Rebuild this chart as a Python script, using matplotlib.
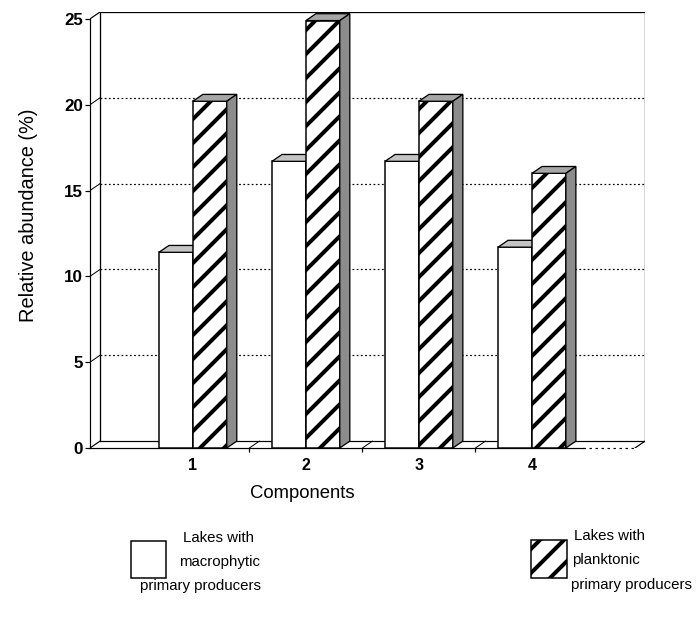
import matplotlib
matplotlib.use("Agg")
import matplotlib.pyplot as plt
from matplotlib.patches import Polygon, Rectangle

plt.rcParams['font.family'] = ['Liberation Sans', 'DejaVu Sans']
plt.rcParams['hatch.linewidth'] = 4.0

# data
components = [1, 2, 3, 4]
macrophytic = [11.4, 16.7, 16.7, 11.7]
planktonic = [20.2, 24.9, 20.2, 16.0]
yticks = [0, 5, 10, 15, 20, 25]

W, H = 697, 629
fig = plt.figure(figsize=(W / 72, H / 72), dpi=72)

# axes placed in pixel terms: front axis x=90, back wall right x=645, y 0 -> 448, top of wall -> 12
x0, x1, y0, y1 = 90, 645, 448, 12
ax = fig.add_axes([x0 / W, 1 - y0 / H, (x1 - x0) / W, (y0 - y1) / H])

XL, XR = 0.09, 5.0
DX, DY = 0.0885, 0.4       # depth offset of the pseudo 3d
ax.set_xlim(XL, XR)
ax.set_ylim(0, 25 + DY)

for s in ['top', 'right']:
    ax.spines[s].set_visible(False)
ax.spines['left'].set_bounds(0, 25)
ax.spines['bottom'].set_bounds(XL, 4.45)
ax.spines['left'].set_linewidth(1.2)
ax.spines['bottom'].set_linewidth(1.2)
ax.plot([4.45, XR - DX], [0, 0], color='k', lw=1.2, ls=(0, (2, 3)), clip_on=False)

ax.set_yticks(yticks)
ax.set_yticklabels([str(t) for t in yticks], fontsize=17, fontweight='bold')
ax.tick_params(axis='y', length=5, width=1.2, pad=2)
ax.set_xticks(components)
ax.set_xticklabels([str(c) for c in components], fontsize=16, fontweight='bold')
ax.tick_params(axis='x', which='major', length=0, pad=10)
ax.set_xticks([1.5, 2.5, 3.5], minor=True)
ax.tick_params(axis='x', which='minor', length=4, width=1.2)

# walls
bx = XL + DX
ax.plot([bx, bx, XR, XR], [DY, 25 + DY, 25 + DY, DY], color='k', lw=1.3, zorder=1)
ax.plot([bx, XR], [DY, DY], color='k', lw=1.2, zorder=1)
ax.plot([XL, bx], [25, 25 + DY], color='k', lw=1.2, zorder=1)
ax.plot([XL, bx], [0, DY], color='k', lw=1.2, zorder=1)
ax.plot([XR - DX, XR], [0, DY], color='k', lw=1.2, zorder=1)
for xb in [1.5, 2.5, 3.5]:
    ax.plot([xb, xb + DX], [0, DY], color='k', lw=1.0, zorder=1)
for t in yticks[1:-1]:
    ax.plot([bx, XR], [t + DY, t + DY], color='k', lw=1.2, ls=(0, (1.5, 2)), zorder=1)
    ax.plot([XL, bx], [t, t + DY], color='k', lw=1.0, zorder=1)

bw = 0.3


def bar3d(left, h, face, top, side, hatch=None):
    ax.add_patch(Rectangle((left, 0), bw, h, facecolor=face, edgecolor='k',
                           lw=1.5, hatch=hatch, zorder=3))
    ax.add_patch(Polygon([(left, h), (left + bw, h), (left + bw + DX, h + DY),
                          (left + DX, h + DY)], closed=True, facecolor=top,
                         edgecolor='k', lw=1.3, zorder=3))
    ax.add_patch(Polygon([(left + bw, 0), (left + bw + DX, DY), (left + bw + DX, h + DY),
                          (left + bw, h)], closed=True, facecolor=side,
                         edgecolor='k', lw=1.3, zorder=3))


for c, m, p in zip(components, macrophytic, planktonic):
    bar3d(c - bw, m, 'white', '#c4c4c4', '#9a9a9a')
    bar3d(c, p, 'white', '#a6a6a6', '#8c8c8c', hatch='/')

ax.set_facecolor('none')

fig.text(29 / W, 1 - 215 / H, 'Relative abundance (%)', rotation=90,
         ha='center', va='center', fontsize=20)
fig.text(302 / W, 1 - 493 / H, 'Components', ha='center', va='center', fontsize=18.5)

# legend drawn by hand
def fig_rect(px, py, pw, ph, **kw):
    fig.add_artist(Rectangle((px / W, 1 - (py + ph) / H), pw / W, ph / H,
                             transform=fig.transFigure, **kw))


fig_rect(131, 541, 35, 37, facecolor='white', edgecolor='k', lw=1.5)
fig_rect(531, 540, 36, 38, facecolor='white', edgecolor='k', lw=1.5, hatch='/')

legend_text = [
    (183, 538, 'Lakes with'), (179, 562, 'macrophytic'), (140, 586, 'primary producers'),
    (574, 536, 'Lakes with'), (572, 560, 'planktonic'), (571, 585, 'primary producers'),
]
for px, py, s in legend_text:
    fig.text(px / W, 1 - py / H, s, ha='left', va='center', fontsize=15)

fig.savefig('out.png', dpi=72)
